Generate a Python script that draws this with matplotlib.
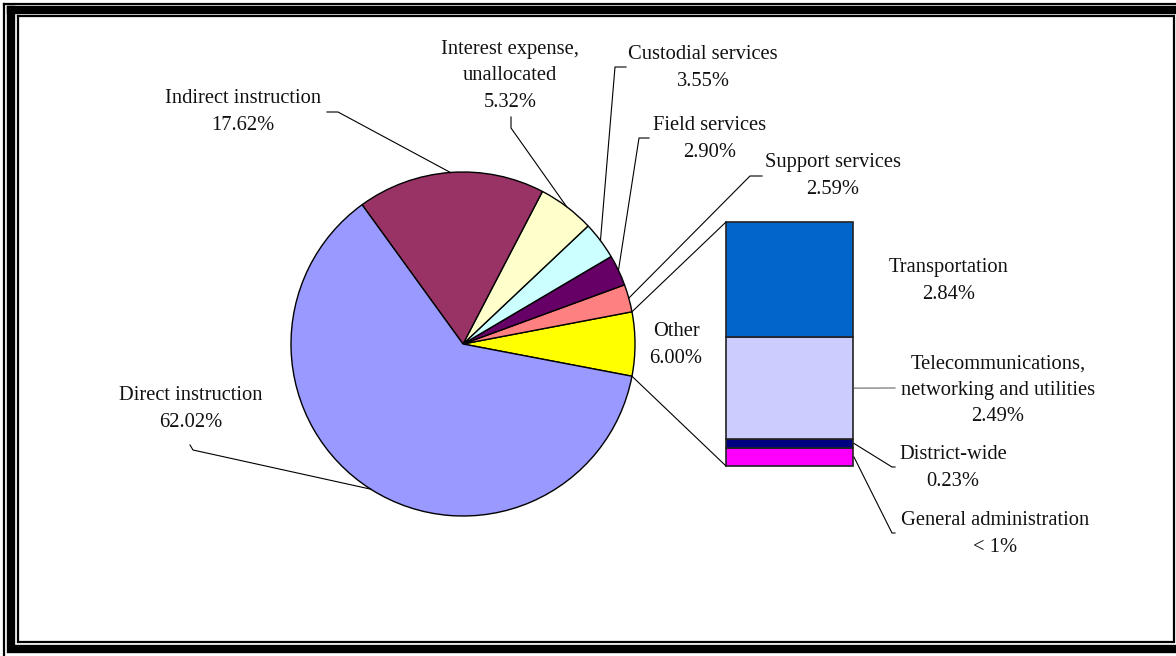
import numpy as np
import matplotlib
matplotlib.use("Agg")
import matplotlib.pyplot as plt

# ---- data ----
pie_labels = ["Other", "Support services", "Field services", "Custodial services",
              "Interest expense,\nunallocated", "Indirect instruction", "Direct instruction"]
pie_values = [6.00, 2.59, 2.90, 3.55, 5.32, 17.62, 62.02]
pie_texts = ["6.00%", "2.59%", "2.90%", "3.55%", "5.32%", "17.62%", "62.02%"]
pie_colors = ["#FFFF00", "#FF8080", "#660066", "#CCFFFF", "#FFFFCC", "#993366", "#9999FF"]

bar_labels = ["General administration", "District-wide",
              "Telecommunications,\nnetworking and utilities", "Transportation"]
bar_values = [0.44, 0.23, 2.49, 2.84]
bar_texts = ["< 1%", "0.23%", "2.49%", "2.84%"]
bar_colors = ["#FF00FF", "#000080", "#CCCCFF", "#0066CC"]

W, H = 1176, 656
fig = plt.figure(figsize=(W / 100, H / 100), dpi=100)
ax = fig.add_axes([0, 0, 1, 1])
ax.set_xlim(0, W)
ax.set_ylim(0, H)
ax.axis("off")

def Y(py):
    return H - py

FONT = dict(family="Liberation Serif", fontsize=14.8, color="#111111", linespacing=1.52)
DY = 2  # small vertical text offset (pixels)

# ---- frame ----
def rect(x0, y0, x1, y1, lw):
    ax.plot([x0, x1, x1, x0, x0], [Y(y0), Y(y0), Y(y1), Y(y1), Y(y0)],
            color="black", lw=lw, solid_joinstyle="miter", clip_on=False)
rect(4, 4, 1180, 660, 1.6)
rect(10.5, 9.5, 1178, 648.5, 6)
rect(18, 16, 1174, 641.5, 1.6)

# ---- pie ----
cx, cy, R = 463, 344, 172
other_angle = pie_values[0] / sum(pie_values) * 360
wedges, _ = ax.pie(pie_values, colors=pie_colors, startangle=-other_angle / 2,
                   counterclock=True, center=(cx, Y(cy)), radius=R,
                   wedgeprops=dict(edgecolor="black", linewidth=1.0), frame=True)
ax.set_xlim(0, W)
ax.set_ylim(0, H)
ax.set_aspect("equal")
ax.axis("off")

def edge_point(w, frac=0.5):
    a = np.deg2rad(w.theta1 + (w.theta2 - w.theta1) * frac)
    return w.center[0] + w.r * np.cos(a), w.center[1] + w.r * np.sin(a)

# label positions (pixel centers) and leader paths (pixel points before the edge point)
pie_pos = [(676, 343), (833, 174), (710, 137), (703, 66), (510, 74), (243, 110), (191, 407)]
leaders = [None,
           [(762, 176), (750, 176)],
           [(649, 138), (639, 138)],
           [(626, 67), (615, 67)],
           [(511, 117), (511, 128)],
           [(327, 112), (338, 112)],
           [(190, 445), (193, 450)]]
for w, lab, txt, pos, ld in zip(wedges, pie_labels, pie_texts, pie_pos, leaders):
    ax.text(pos[0], Y(pos[1] + DY), lab + "\n" + txt, ha="center", va="center", **FONT)
    if ld is not None:
        ex, ey = edge_point(w)
        xs = [p[0] for p in ld] + [ex]
        ys = [Y(p[1]) for p in ld] + [ey]
        ax.plot(xs, ys, color="black", lw=0.8)

# ---- bar of pie ----
bx0, bx1, btop, bbot = 726, 853, 222, 466
scale = (bbot - btop) / sum(bar_values)
bars = ax.bar([(bx0 + bx1) / 2] * len(bar_values), np.array(bar_values) * scale,
              width=bx1 - bx0, bottom=Y(bbot) + np.concatenate([[0], np.cumsum(bar_values)[:-1]]) * scale,
              color=bar_colors, edgecolor="#222222", linewidth=1.2)

# connector lines from Other slice to bar
ow = wedges[0]
a1 = np.deg2rad(ow.theta2); a0 = np.deg2rad(ow.theta1)
ax.plot([cx + R * np.cos(a1), bx0], [Y(cy) + R * np.sin(a1), Y(btop)], color="black", lw=0.8)
ax.plot([cx + R * np.cos(a0), bx0], [Y(cy) + R * np.sin(a0), Y(bbot)], color="black", lw=0.8)

bar_pos = [(995, 532), (953, 466), (998, 388), (949, 279)]
bar_leaders = [[(892, 533), (895, 533)], [(892, 467), (895, 467)], [(895, 388)], None]
for b, lab, txt, pos, ld in zip(bars, bar_labels, bar_texts, bar_pos, bar_leaders):
    ax.text(pos[0], Y(pos[1] + DY), lab + "\n" + txt, ha="center", va="center", **FONT)
    if ld is not None:
        sx = b.get_x() + b.get_width() + 1
        sy = b.get_y() + b.get_height() / 2
        xs = [sx] + [p[0] for p in ld]
        ys = [sy] + [Y(p[1]) for p in ld]
        ax.plot(xs, ys, color="black" if len(ld) > 1 else "#666666", lw=0.8)

fig.savefig("out.png", dpi=100)
